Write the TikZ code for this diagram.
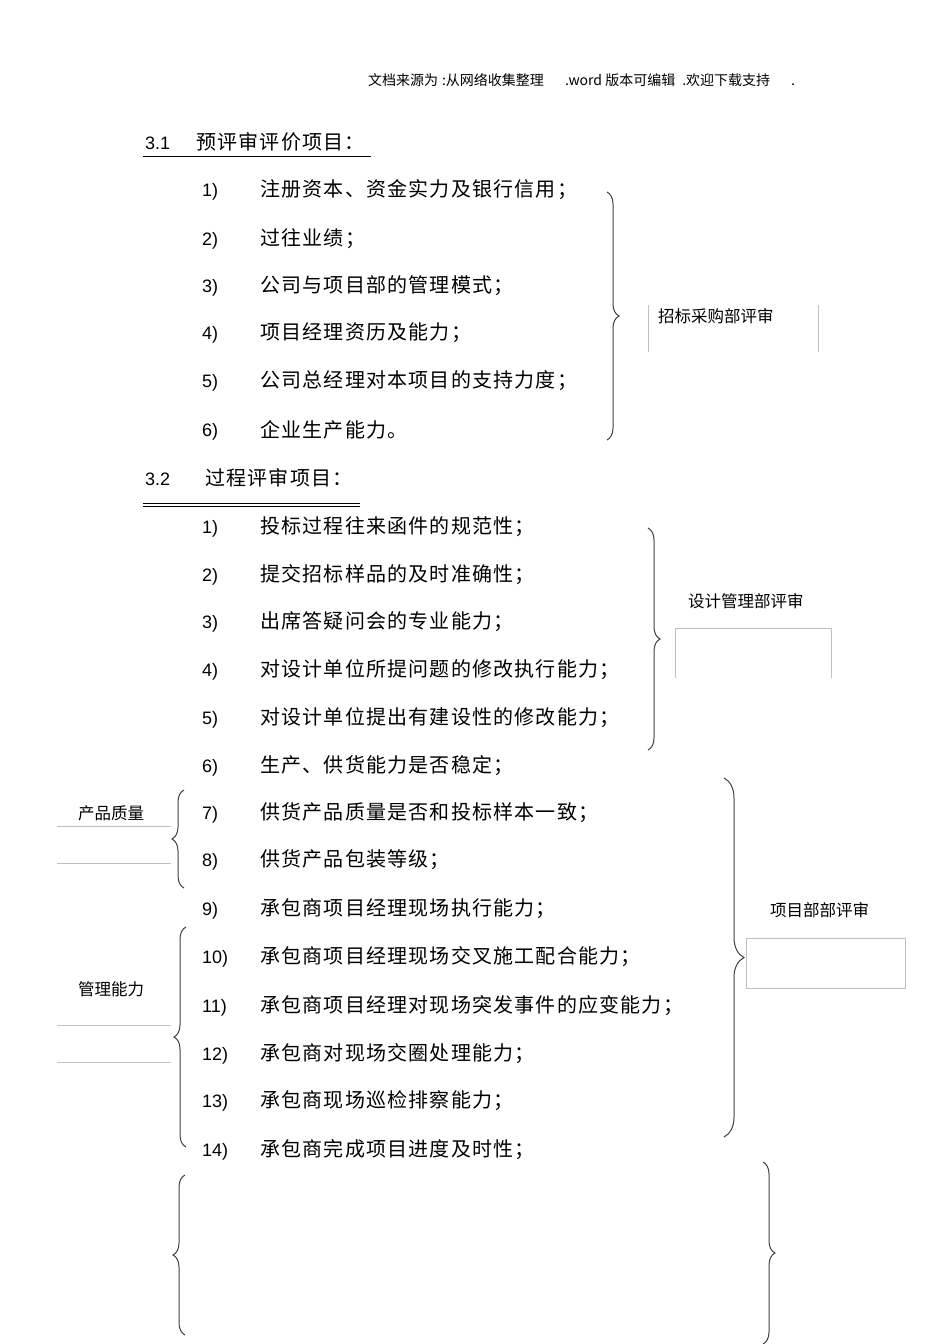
\documentclass[tikz,border=0pt]{standalone}
\usepackage{fontspec}
\setmainfont{Liberation Sans}
\newfontfamily\cjk{Noto Sans CJK SC}
\newfontfamily\cjkw[LetterSpace=6]{Noto Sans CJK SC}
\usetikzlibrary{decorations.pathreplacing}
\begin{document}
\begin{tikzpicture}[x=1pt,y=-1pt,
  num/.style={anchor=west,inner sep=0,font=\fontsize{18}{20}\selectfont},
  item/.style={anchor=west,inner sep=0,font=\cjkw\fontsize{20}{22}\selectfont},
  lab/.style={anchor=west,inner sep=0,font=\cjk\fontsize{16.5}{18}\selectfont},
  brc/.style={decorate,decoration={brace,amplitude=12pt},draw=black!75,line width=1pt},
  thin/.style={draw=black!25,line width=0.5pt}]
\useasboundingbox (0,0) rectangle (950,1344);
\node[anchor=west,inner sep=0,font=\cjk\fontsize{14}{16}\selectfont] (hdr) at (368,80) {文档来源为\;:从网络收集整理\quad\; .word 版本可编辑\; .欢迎下载支持\quad\; .};
% 3.1
\node[num] (s1) at (145,143) {3.1};
\node[item] (s1t) at (196,142) {预评审评价项目：};
\draw (143,156) -- (371,156);
\foreach \n/\y/\t in {1/190/注册资本、资金实力及银行信用；,2/239/过往业绩；,3/286/公司与项目部的管理模式；,4/333/项目经理资历及能力；,5/381/公司总经理对本项目的支持力度；,6/430/企业生产能力。}{
  \node[num] (a\n) at (202,\y+2) {\n)};
  \node[item] (at\n) at (260,\y) {\t};
}
\draw[brc] (607,192) -- (607,440);
\node[lab] (l1) at (658,316) {招标采购部评审};
\draw[thin] (648,305) -- (648,352) (818,305) -- (818,352);
% 3.2
\node[num] (s2) at (145,479) {3.2};
\node[item] (s2t) at (205,478) {过程评审项目：};
\draw (143,503) -- (360,503) (143,506) -- (360,506);
\foreach \n/\y/\t in {1/527/投标过程往来函件的规范性；,2/575/提交招标样品的及时准确性；,3/622/出席答疑问会的专业能力；,4/670/对设计单位所提问题的修改执行能力；,5/718/对设计单位提出有建设性的修改能力；,6/766/生产、供货能力是否稳定；,7/813/供货产品质量是否和投标样本一致；,8/860/供货产品包装等级；,9/909/承包商项目经理现场执行能力；}{
  \node[num] (b\n) at (202,\y+2) {\n)};
  \node[item] (bt\n) at (260,\y) {\t};
}
\foreach \n/\y/\t in {10/957/承包商项目经理现场交叉施工配合能力；,11/1006/承包商项目经理对现场突发事件的应变能力；,12/1054/承包商对现场交圈处理能力；,13/1101/承包商现场巡检排察能力；,14/1150/承包商完成项目进度及时性；}{
  \node[num] (b\n) at (202,\y+2) {\n)};
  \node[item] (bt\n) at (260,\y) {\t};
}
\draw[brc] (648,528) -- (648,750);
\node[lab] (l2) at (688,601) {设计管理部评审};
\draw[thin] (675,678) -- (675,628) -- (831,628) -- (831,678);
\draw[brc,decoration={amplitude=20pt}] (724,778) -- (724,1137);
\node[lab] (l3) at (770,910) {项目部部评审};
\draw[thin] (746,938) rectangle (905,988);
\draw[brc,decoration={amplitude=12pt}] (184,888) -- (184,790);
\node[lab] (l4) at (78,813) {产品质量};
\draw[thin] (57,826) -- (171,826) (57,863) -- (171,863);
\draw[brc,decoration={amplitude=12pt}] (186,1147) -- (186,927);
\node[lab] (l5) at (78,989) {管理能力};
\draw[thin] (57,1025) -- (171,1025) (57,1062) -- (171,1062);
\draw[brc,decoration={amplitude=12pt}] (185,1335) -- (185,1175);
\draw[brc,decoration={amplitude=12pt}] (763,1162) -- (763,1344);
\end{tikzpicture}
\end{document}
